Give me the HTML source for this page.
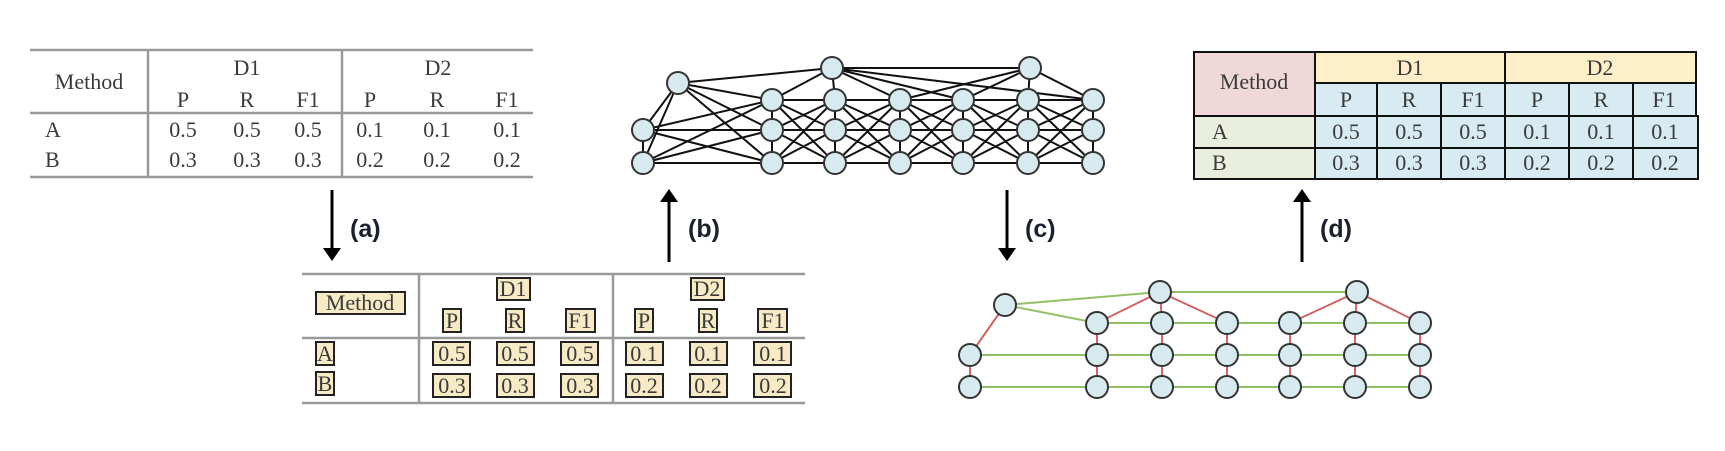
<!DOCTYPE html>
<html><head><meta charset="utf-8"><style>
html,body{margin:0;padding:0;background:#fff;width:1725px;height:451px;overflow:hidden}
svg{display:block}
.s{font-family:"Liberation Serif",serif;font-size:22px;fill:#3a3a3a}
.l{font-family:"Liberation Sans",sans-serif;font-size:25px;font-weight:bold;fill:#1a2030}
</style></head><body>
<svg width="1725" height="451" viewBox="0 0 1725 451" xmlns="http://www.w3.org/2000/svg">
<!-- Table 1 -->
<g stroke="#999" stroke-width="2.5">
<line x1="30" y1="50" x2="533" y2="50"/><line x1="30" y1="113" x2="533" y2="113"/><line x1="30" y1="177" x2="533" y2="177"/>
<line x1="148" y1="50" x2="148" y2="177"/><line x1="342" y1="50" x2="342" y2="177"/>
</g>
<g class="s" text-anchor="middle">
<text x="89" y="89">Method</text>
<text x="247" y="75">D1</text><text x="438" y="75">D2</text>
<text x="183" y="107">P</text><text x="247" y="107">R</text><text x="308" y="107">F1</text>
<text x="370" y="107">P</text><text x="437" y="107">R</text><text x="507" y="107">F1</text>
<text x="183" y="137">0.5</text><text x="247" y="137">0.5</text><text x="308" y="137">0.5</text>
<text x="370" y="137">0.1</text><text x="437" y="137">0.1</text><text x="507" y="137">0.1</text>
<text x="183" y="167">0.3</text><text x="247" y="167">0.3</text><text x="308" y="167">0.3</text>
<text x="370" y="167">0.2</text><text x="437" y="167">0.2</text><text x="507" y="167">0.2</text>
</g>
<g class="s" text-anchor="start"><text x="45" y="137">A</text><text x="45" y="167">B</text></g>

<!-- Table 2 -->
<g stroke="#999" stroke-width="2.5">
<line x1="302" y1="274" x2="805" y2="274"/><line x1="302" y1="338" x2="805" y2="338"/><line x1="302" y1="403" x2="805" y2="403"/>
<line x1="419" y1="274" x2="419" y2="403"/><line x1="613" y1="274" x2="613" y2="403"/>
</g>
<g fill="#f6ebc4" stroke="#222" stroke-width="2">
<rect x="316" y="292" width="89" height="22"/>
<rect x="497" y="278" width="33" height="22"/><rect x="691" y="278" width="33" height="22"/>
<rect x="443" y="309" width="18" height="23"/><rect x="506" y="309" width="18" height="23"/><rect x="566" y="309" width="29" height="23"/>
<rect x="635" y="309" width="18" height="23"/><rect x="699" y="309" width="18" height="23"/><rect x="758" y="309" width="29" height="23"/>
<rect x="316" y="342" width="18" height="23"/><rect x="316" y="372" width="18" height="23"/>
<rect x="433" y="342" width="37" height="23"/><rect x="497" y="342" width="37" height="23"/><rect x="561" y="342" width="37" height="23"/>
<rect x="626" y="342" width="37" height="23"/><rect x="690" y="342" width="37" height="23"/><rect x="754" y="342" width="37" height="23"/>
<rect x="433" y="374" width="37" height="23"/><rect x="497" y="374" width="37" height="23"/><rect x="561" y="374" width="37" height="23"/>
<rect x="626" y="374" width="37" height="23"/><rect x="690" y="374" width="37" height="23"/><rect x="754" y="374" width="37" height="23"/>
</g>
<g class="s" text-anchor="middle">
<text x="360" y="310">Method</text>
<text x="513" y="296">D1</text><text x="707" y="296">D2</text>
<text x="452" y="328">P</text><text x="515" y="328">R</text><text x="580" y="328">F1</text>
<text x="644" y="328">P</text><text x="708" y="328">R</text><text x="773" y="328">F1</text>
<text x="325" y="361">A</text><text x="325" y="391">B</text>
<text x="452" y="361">0.5</text><text x="515" y="361">0.5</text><text x="580" y="361">0.5</text>
<text x="644" y="361">0.1</text><text x="708" y="361">0.1</text><text x="773" y="361">0.1</text>
<text x="452" y="393">0.3</text><text x="515" y="393">0.3</text><text x="580" y="393">0.3</text>
<text x="644" y="393">0.2</text><text x="708" y="393">0.2</text><text x="773" y="393">0.2</text>
</g>

<!-- Graph b -->
<g stroke="#111" stroke-width="2" fill="none">
<path d="M678 83L832 68L1030 68M678 83L643 130M678 83L643 163M643 130L643 163M678 83L772 100M678 83L772 130M678 83L772 163
M643 130L772 100M643 130L772 130M643 130L772 163M643 163L772 100M643 163L772 130M643 163L772 163
M832 68L772 100M832 68L835 100M832 68L900 100M832 68L963 100M832 68L1093 100M1030 68L900 100M1030 68L963 100M1030 68L1028 100M1030 68L1093 100
M772 100L772 163M835 100L835 163M900 100L900 163M963 100L963 163M1028 100L1028 163M1093 100L1093 163"/>
<path d="M772 100L835 100M772 100L835 130M772 100L835 163M772 130L835 100M772 130L835 130M772 130L835 163M772 163L835 100M772 163L835 130M772 163L835 163
M835 100L900 100M835 100L900 130M835 100L900 163M835 130L900 100M835 130L900 130M835 130L900 163M835 163L900 100M835 163L900 130M835 163L900 163
M900 100L963 100M900 100L963 130M900 100L963 163M900 130L963 100M900 130L963 130M900 130L963 163M900 163L963 100M900 163L963 130M900 163L963 163
M963 100L1028 100M963 100L1028 130M963 100L1028 163M963 130L1028 100M963 130L1028 130M963 130L1028 163M963 163L1028 100M963 163L1028 130M963 163L1028 163
M1028 100L1093 100M1028 100L1093 130M1028 100L1093 163M1028 130L1093 100M1028 130L1093 130M1028 130L1093 163M1028 163L1093 100M1028 163L1093 130M1028 163L1093 163"/>
</g>
<g fill="#d6eaf0" stroke="#333" stroke-width="2">
<circle cx="678" cy="83" r="11"/><circle cx="832" cy="68" r="11"/><circle cx="1030" cy="68" r="11"/>
<circle cx="643" cy="130" r="11"/><circle cx="643" cy="163" r="11"/>
<circle cx="772" cy="100" r="11"/><circle cx="772" cy="130" r="11"/><circle cx="772" cy="163" r="11"/>
<circle cx="835" cy="100" r="11"/><circle cx="835" cy="130" r="11"/><circle cx="835" cy="163" r="11"/>
<circle cx="900" cy="100" r="11"/><circle cx="900" cy="130" r="11"/><circle cx="900" cy="163" r="11"/>
<circle cx="963" cy="100" r="11"/><circle cx="963" cy="130" r="11"/><circle cx="963" cy="163" r="11"/>
<circle cx="1028" cy="100" r="11"/><circle cx="1028" cy="130" r="11"/><circle cx="1028" cy="163" r="11"/>
<circle cx="1093" cy="100" r="11"/><circle cx="1093" cy="130" r="11"/><circle cx="1093" cy="163" r="11"/>
</g>

<!-- Graph c -->
<g stroke="#93c064" stroke-width="2" fill="none">
<path d="M1005 305L1160 292L1357 292M1005 305L1097 323M1097 323L1420 323M970 355L1420 355M970 387L1420 387"/>
</g>
<g stroke="#d06464" stroke-width="2" fill="none">
<path d="M1005 305L970 355M970 355L970 387M1160 292L1097 323M1160 292L1162 323M1160 292L1227 323M1357 292L1290 323M1357 292L1355 323M1357 292L1420 323
M1097 323L1097 387M1162 323L1162 387M1227 323L1227 387M1290 323L1290 387M1355 323L1355 387M1420 323L1420 387"/>
</g>
<g fill="#d6eaf0" stroke="#333" stroke-width="2">
<circle cx="1005" cy="305" r="11"/><circle cx="1160" cy="292" r="11"/><circle cx="1357" cy="292" r="11"/>
<circle cx="970" cy="355" r="11"/><circle cx="970" cy="387" r="11"/>
<circle cx="1097" cy="323" r="11"/><circle cx="1097" cy="355" r="11"/><circle cx="1097" cy="387" r="11"/>
<circle cx="1162" cy="323" r="11"/><circle cx="1162" cy="355" r="11"/><circle cx="1162" cy="387" r="11"/>
<circle cx="1227" cy="323" r="11"/><circle cx="1227" cy="355" r="11"/><circle cx="1227" cy="387" r="11"/>
<circle cx="1290" cy="323" r="11"/><circle cx="1290" cy="355" r="11"/><circle cx="1290" cy="387" r="11"/>
<circle cx="1355" cy="323" r="11"/><circle cx="1355" cy="355" r="11"/><circle cx="1355" cy="387" r="11"/>
<circle cx="1420" cy="323" r="11"/><circle cx="1420" cy="355" r="11"/><circle cx="1420" cy="387" r="11"/>
</g>

<!-- Table d -->
<g stroke="#111" stroke-width="2">
<rect x="1194" y="52" width="121" height="64" fill="#f0d8d8"/>
<rect x="1194" y="116" width="121" height="32" fill="#e9efdc"/>
<rect x="1194" y="148" width="121" height="31" fill="#e9efdc"/>
<rect x="1315" y="52" width="190" height="31" fill="#fdefc8"/>
<rect x="1505" y="52" width="191" height="31" fill="#fdefc8"/>
<g fill="#d8ebf2">
<rect x="1315" y="83" width="62" height="33"/><rect x="1377" y="83" width="64" height="33"/><rect x="1441" y="83" width="64" height="33"/>
<rect x="1505" y="83" width="64" height="33"/><rect x="1569" y="83" width="64" height="33"/><rect x="1633" y="83" width="63" height="33"/>
<rect x="1315" y="116" width="62" height="32"/><rect x="1377" y="116" width="64" height="32"/><rect x="1441" y="116" width="64" height="32"/>
<rect x="1505" y="116" width="64" height="32"/><rect x="1569" y="116" width="64" height="32"/><rect x="1633" y="116" width="65" height="32"/>
<rect x="1315" y="148" width="62" height="31"/><rect x="1377" y="148" width="64" height="31"/><rect x="1441" y="148" width="64" height="31"/>
<rect x="1505" y="148" width="64" height="31"/><rect x="1569" y="148" width="64" height="31"/><rect x="1633" y="148" width="65" height="31"/>
</g>
</g>
<g class="s" text-anchor="middle">
<text x="1254" y="89">Method</text>
<text x="1410" y="75">D1</text><text x="1600" y="75">D2</text>
<text x="1346" y="107">P</text><text x="1409" y="107">R</text><text x="1473" y="107">F1</text>
<text x="1537" y="107">P</text><text x="1601" y="107">R</text><text x="1664" y="107">F1</text>
<text x="1346" y="139">0.5</text><text x="1409" y="139">0.5</text><text x="1473" y="139">0.5</text>
<text x="1537" y="139">0.1</text><text x="1601" y="139">0.1</text><text x="1665" y="139">0.1</text>
<text x="1346" y="170">0.3</text><text x="1409" y="170">0.3</text><text x="1473" y="170">0.3</text>
<text x="1537" y="170">0.2</text><text x="1601" y="170">0.2</text><text x="1665" y="170">0.2</text>
</g>
<g class="s"><text x="1212" y="139">A</text><text x="1212" y="170">B</text></g>

<!-- Arrows -->
<g stroke="#000" stroke-width="3">
<line x1="332" y1="190" x2="332" y2="250"/><line x1="669" y1="200" x2="669" y2="262"/>
<line x1="1007" y1="190" x2="1007" y2="250"/><line x1="1302" y1="200" x2="1302" y2="262"/>
</g>
<g fill="#000">
<polygon points="323,248 341,248 332,261"/><polygon points="660,202 678,202 669,189"/>
<polygon points="998,248 1016,248 1007,261"/><polygon points="1293,202 1311,202 1302,189"/>
</g>
<g class="l">
<text x="350" y="237">(a)</text><text x="688" y="237">(b)</text>
<text x="1025" y="237">(c)</text><text x="1320" y="237">(d)</text>
</g>
</svg>
</body></html>
